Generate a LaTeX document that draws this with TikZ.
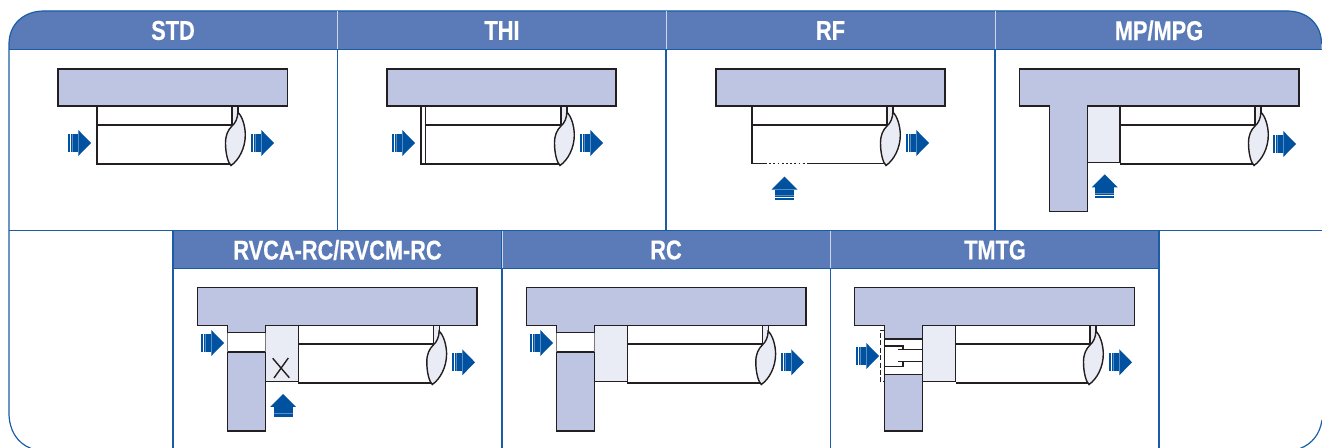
\documentclass[tikz,border=0pt]{standalone}
\usepackage{fontspec}
\newfontfamily\headfont[FakeStretch=0.8,BoldFeatures={FakeBold=0.4}]{Liberation Sans}
\definecolor{hdr}{HTML}{5A7BB8}
\definecolor{frameblue}{HTML}{1A5DA6}
\definecolor{plate}{HTML}{BDC5E2}
\definecolor{lightbox}{HTML}{E9EBF5}
\definecolor{arrowblue}{HTML}{0051A0}
\definecolor{ink}{HTML}{231F20}
\tikzset{
  part/.style={draw=ink,line width=0.7pt,line join=miter},
  platepart/.style={part,fill=plate},
  lightpart/.style={part,fill=lightbox},
  inkline/.style={draw=ink,line width=0.7pt},
  gridline/.style={draw=frameblue,line width=0.6pt},
  headlabel/.style={text=white,font=\headfont\bfseries\fontsize{13.6}{13.6}\selectfont,inner sep=0pt,anchor=center},
  flow/.style={fill=arrowblue,draw=none}
}
\newcommand{\flowarrow}[2]{%
  \begin{scope}[shift={(#1,#2)}]
    \fill[flow] (0,-9) rectangle (1.9,9);
    \fill[flow] (2.7,-9) rectangle (10.3,9);
    \fill[white,opacity=0.35] (4.2,-9) rectangle (4.7,9);
    \fill[flow] (10.3,-13) -- (23,0) -- (10.3,13) -- cycle;
  \end{scope}}
\newcommand{\uparrowflow}[2]{%
  \begin{scope}[shift={(#1,#2)}]
    \fill[flow] (-13,13) -- (0,0) -- (13,13) -- cycle;
    \fill[flow] (-9.5,13) rectangle (9.5,20.6);
    \fill[white,opacity=0.35] (-9.5,18.6) rectangle (9.5,19.1);
    \fill[flow] (-9.5,21.4) rectangle (9.5,23.3);
  \end{scope}}
\newcommand{\cylend}[2]{%
  \begin{scope}[shift={(#1,#2)}]
    \fill[lightbox] (0,0) rectangle (6,16);
    \draw[inkline] (0,0) -- (0,20);
    \draw[inkline] (6,0) -- (6,8);
    \path[part,fill=lightbox] (5.8,6.3) .. controls (10,9.5) and (13.3,20) .. (13.3,29)
      .. controls (13.3,42) and (7,54) .. (-1,59.5)
      .. controls (-3.8,57) and (-6.5,48) .. (-6.5,37)
      .. controls (-6.5,29) and (-4,24) .. (0,20)
      .. controls (3.5,17) and (5.8,12) .. (5.8,6.3) -- cycle;
  \end{scope}}
\begin{document}
\begin{tikzpicture}[x=0.5pt,y=-0.5pt]
\useasboundingbox (0,0) rectangle (1322,448);
\fill[hdr] (9,49.5) -- (9,44) .. controls (9,24) and (24,11) .. (44,11) -- (1287,11)
  .. controls (1307,11) and (1321.5,24) .. (1321.5,44) -- (1321.5,49.5) -- cycle;
\fill[hdr] (173,231) rectangle (1159,268.3);
\draw[gridline] (1321.5,44) .. controls (1321.5,24) and (1307,11) .. (1287,11) -- (44,11)
  .. controls (24,11) and (9,24) .. (9,44) -- (9,413) .. controls (9,430) and (17,443) .. (31,448.5);
\draw[gridline] (1300,448.5) .. controls (1312,444) and (1320,434) .. (1322,420);
\draw[gridline] (9,49.5) -- (1322,49.5);
\draw[gridline] (9,230.5) -- (1322,230.5);
\draw[gridline] (173,268.3) -- (1159,268.3);
\draw[gridline] (337.5,49.5) -- (337.5,230.5);
\draw[gridline] (666,49.5) -- (666,230.5);
\draw[gridline] (995,49.5) -- (995,230.5);
\draw[gridline] (173,230.5) -- (173,448);
\draw[gridline] (502,230.5) -- (502,448);
\draw[gridline] (830.5,230.5) -- (830.5,448);
\draw[gridline] (1159,230.5) -- (1159,448);
\draw[white!70!hdr,line width=0.4pt] (337.5,11) -- (337.5,49);
\draw[white!70!hdr,line width=0.4pt] (666,11) -- (666,49);
\draw[white!70!hdr,line width=0.4pt] (995,11) -- (995,49);
\draw[white!70!hdr,line width=0.4pt] (502,231) -- (502,268);
\draw[white!70!hdr,line width=0.4pt] (830.5,231) -- (830.5,268);
\node[headlabel] (hstd) at (173,30.5) {STD};
\node[headlabel] (hthi) at (502,30.5) {THI};
\node[headlabel] (hrf) at (830.5,30.5) {RF};
\node[headlabel] (hmp) at (1159,30.5) {MP/MPG};
\node[headlabel] (hrvca) at (337.5,250) {RVCA-RC/RVCM-RC};
\node[headlabel] (hrc) at (666,250) {RC};
\node[headlabel] (htmtg) at (995,250) {TMTG};
% STD
\draw[part] (97,106) -- (97,164) -- (232,164) (97,125) -- (232,125);
\cylend{232}{106}
\draw[platepart] (58,69) rectangle (287.5,106);
\flowarrow{68}{143}
\flowarrow{251}{143}
% THI
\draw[part] (421,106) -- (421,164) -- (561,164) (425.5,106) -- (425.5,164) (425.5,125) -- (561,125);
\cylend{561}{106}
\draw[platepart] (387,69) rectangle (616,106);
\flowarrow{392}{143}
\flowarrow{580}{143}
% RF
\draw[part] (752,106) -- (752,163.7) -- (765,163.7) (808,163.7) -- (887,163.7) (752,125) -- (887,125);
\draw[inkline,dash pattern=on 0.9pt off 1.2pt] (765,163.7) -- (808,163.7);
\cylend{887}{106}
\draw[platepart] (716,69) rectangle (945,106);
\flowarrow{906}{143}
\uparrowflow{784.5}{176.7}
% MP/MPG
\draw[lightpart] (1087.3,106) rectangle (1120,162.7);
\draw[part] (1120,125) -- (1255,125) (1120,164) -- (1255,164);
\cylend{1255}{106}
\draw[platepart] (1019.3,69) -- (1299,69) -- (1299,106) -- (1087.3,106) -- (1087.3,211.3) -- (1049.3,211.3) -- (1049.3,106) -- (1019.3,106) -- cycle;
\flowarrow{1273}{144}
\uparrowflow{1104.7}{174.3}
% RVCA-RC/RVCM-RC
\draw[lightpart] (265.3,325) rectangle (298.3,381.7);
\draw[part] (298.3,344) -- (433.3,344) (298.3,383) -- (433.3,383);
\cylend{433.3}{325}
\draw[platepart] (197.3,287.7) -- (477,287.7) -- (477,325.3) -- (265.3,325.3) -- (265.3,332.7) -- (227.7,332.7) -- (227.7,325.3) -- (197.3,325.3) -- cycle;
\draw[platepart] (227.7,352) rectangle (265.3,431);
\draw[part,draw=ink!60] (227.7,332.7) -- (227.7,352);
\draw[part,draw=ink!60] (265.3,332.7) -- (265.3,352);
\draw[part] (272.7,358.3) -- (289.3,377.7) (288.3,358) -- (274,378);
\flowarrow{201}{343}
\flowarrow{452}{362.3}
\uparrowflow{283}{394}
% RC
\draw[lightpart] (594.3,325) rectangle (627.3,381.7);
\draw[part] (627.3,344) -- (762.3,344) (627.3,383) -- (762.3,383);
\cylend{762.3}{325}
\draw[platepart] (526.3,287.7) -- (806,287.7) -- (806,325.3) -- (594.3,325.3) -- (594.3,332.7) -- (556.7,332.7) -- (556.7,325.3) -- (526.3,325.3) -- cycle;
\draw[platepart] (556.7,352) rectangle (594.3,431);
\draw[part,draw=ink!60] (556.7,332.7) -- (556.7,352);
\draw[part,draw=ink!60] (594.3,332.7) -- (594.3,352);
\flowarrow{530}{343}
\flowarrow{781}{362.3}
% TMTG
\draw[lightpart] (922.3,325) rectangle (955.7,381.7);
\draw[part] (955.7,344) -- (1090,344) (955.7,383) -- (1090,383);
\cylend{1090}{325}
\draw[platepart] (854.3,287.7) -- (1134.3,287.7) -- (1134.3,325.3) -- (922.3,325.3) -- (922.3,339) -- (884.7,339) -- (884.7,325.3) -- (854.3,325.3) -- cycle;
\draw[platepart] (884.7,374.7) rectangle (922.3,431);
\draw[part] (884.7,339) -- (884.7,374.7) (922.3,339) -- (922.3,374.7);
\draw[part] (884.7,346) -- (903,346) -- (903,349.7) (898,349.7) -- (922.3,349.7);
\draw[part] (884.7,366.3) -- (903,366.3) -- (903,361.7) (898,361.7) -- (922.3,361.7);
\draw[inkline,line width=0.45pt,dash pattern=on 2.5pt off 1.2pt] (884.7,330.3) -- (880,330.3) -- (880,381.7) -- (884.7,381.7);
\flowarrow{856}{356}
\flowarrow{1109}{362.3}
\end{tikzpicture}
\end{document}
